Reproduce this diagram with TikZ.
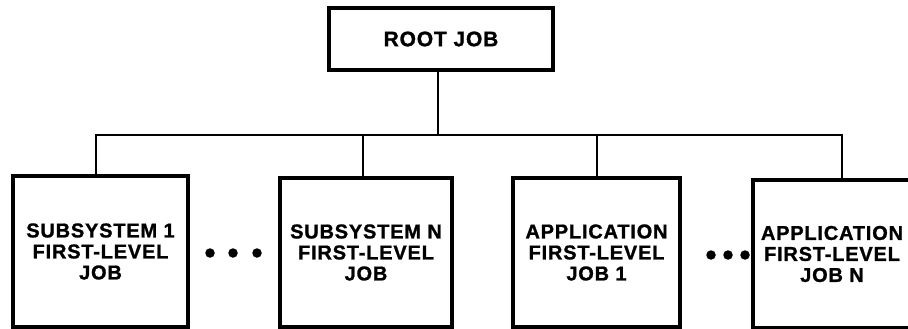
\documentclass[tikz,border=0pt]{standalone}
\usepackage{fontspec}
\setmainfont{Liberation Sans}[LetterSpace=4, BoldFeatures={FakeBold=1.2}]
\begin{document}
\begin{tikzpicture}[x=1pt,y=-1pt,
  jobbox/.style={draw, line width=3.4pt, inner sep=0pt, align=center,
    font=\fontsize{20}{21}\selectfont\bfseries},
  conn/.style={line width=2pt},
  dot/.style={circle, fill, inner sep=0pt, minimum size=9.5pt}]
\useasboundingbox (0,0) rectangle (908,329);
\node[jobbox, minimum width=224, minimum height=62, font=\fontsize{21}{22}\selectfont\bfseries] (root) at (441,39) {ROOT JOB};
\node[jobbox, minimum width=175, minimum height=151] (b1) at (100.5,251.5) {SUBSYSTEM 1\\FIRST-LEVEL\\JOB};
\node[jobbox, minimum width=172, minimum height=149] (b2) at (366,252.5) {SUBSYSTEM N\\FIRST-LEVEL\\JOB};
\node[jobbox, minimum width=167, minimum height=149] (b3) at (596.5,252.5) {APPLICATION\\FIRST-LEVEL\\JOB 1};
\node[jobbox, minimum width=158, minimum height=148] (b4) at (832,254) {APPLICATION\\FIRST-LEVEL\\JOB N};
\coordinate (t0) at (438,135);
\coordinate (t1) at (96,135);
\coordinate (t2) at (363,135);
\coordinate (t3) at (597,135);
\coordinate (t4) at (842,135);
\draw[conn] (t0 |- root.south) -- (t0);
\draw[conn] (t1 |- b1.north) -- (t1) -- (t4) -- (t4 |- b4.north);
\draw[conn] (t2) -- (t2 |- b2.north);
\draw[conn] (t3) -- (t3 |- b3.north);
\node[dot] (d1) at (210,253) {};
\node[dot] (d2) at (233,253) {};
\node[dot] (d3) at (257,253) {};
\node[dot] (d4) at (711,255) {};
\node[dot] (d5) at (728,255) {};
\node[dot] (d6) at (745,255) {};
\end{tikzpicture}
\end{document}
